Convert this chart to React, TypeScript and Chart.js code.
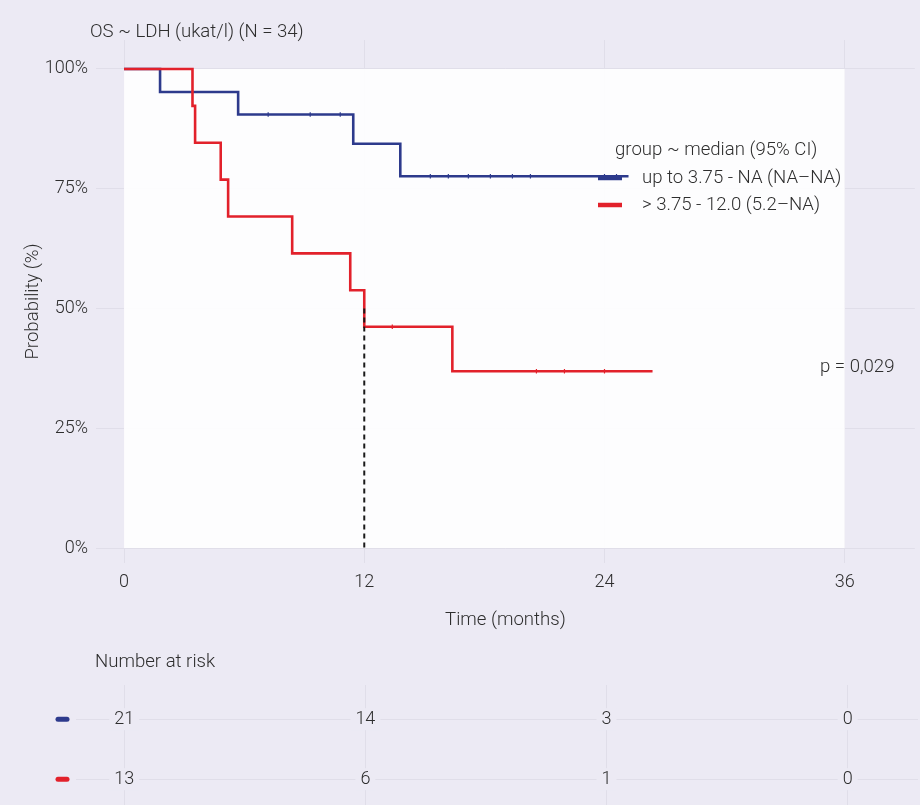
import React, { useEffect, useRef } from 'react';
import { Chart, registerables } from 'chart.js';

Chart.register(...registerables);

// ---------- data ----------
const TITLE = 'OS ~ LDH (ukat/l) (N = 34)';
const X_TITLE = 'Time (months)';
const Y_TITLE = 'Probability (%)';
const LEGEND_TITLE = 'group ~ median (95% CI)';
const GROUP_LABELS = ['up to 3.75 - NA (NA–NA)', '> 3.75 - 12.0 (5.2–NA)'];
const P_VALUE = 'p = 0,029';
const RISK_TITLE = 'Number at risk';

const X_TICKS = [0, 12, 24, 36];
const Y_TICKS = [0, 25, 50, 75, 100];

const lowTimes = [0, 1.8, 5.7, 11.45, 13.8, 25.2];
const lowSurv = [100, 95.2, 90.5, 84.4, 77.6, 77.6];
const highTimes = [0, 3.42, 3.55, 4.83, 5.2, 8.4, 11.3, 12.0, 16.4, 26.4];
const highSurv = [100, 92.3, 84.6, 76.9, 69.2, 61.5, 53.8, 46.2, 36.9, 36.9];

const lowCensorTimes = [7.2, 9.3, 10.8, 15.3, 16.2, 17.2, 18.3, 19.4, 20.3, 24.0, 24.6];
const highCensorTimes = [13.4, 20.6, 22.0, 24.0];

const MEDIAN_HIGH = 12.0;

const riskTimes = [0, 12, 24, 36];
const riskLow = [21, 14, 3, 0];
const riskHigh = [13, 6, 1, 0];

// ---------- styling ----------
const BLUE = '#2d3a8c';
const RED = '#e2212b';
const BG = '#ECEAF4';
const GRID = '#e0dee9';
const TEXT = '#2e2e2e';
const FONT = 'Roboto, "Open Sans", sans-serif';
const TXT_SIZE = 18.6;
const TICK_SIZE = 18;

const survAt = (times: number[], surv: number[], t: number) => {
  let s = surv[0];
  for (let i = 0; i < times.length; i++) if (times[i] <= t) s = surv[i];
  return s;
};

const pts = (xs: number[], ys: number[]) => xs.map((x, i) => ({ x, y: ys[i] }));

function MainChart() {
  const ref = useRef<HTMLCanvasElement | null>(null);
  useEffect(() => {
    if (!ref.current) return;
    const decor = {
      id: 'decor',
      beforeDatasetsDraw(chart: any) {
        const { ctx, scales } = chart;
        const x = scales.x, y = scales.y;
        const l = x.getPixelForValue(0), r = x.getPixelForValue(36);
        const t = y.getPixelForValue(100), b = y.getPixelForValue(0);
        ctx.save();
        ctx.fillStyle = 'rgba(255,255,255,0.9)';
        ctx.fillRect(l, t, r - l, b - t);
        ctx.restore();
      },
      afterDatasetsDraw(chart: any) {
        const { ctx } = chart;
        ctx.save();
        ctx.fillStyle = TEXT;
        ctx.textBaseline = 'middle';
        ctx.textAlign = 'left';
        ctx.font = `300 ${TXT_SIZE}px ${FONT}`;
        ctx.fillText(TITLE, 90, 32);
        // legend
        ctx.fillText(LEGEND_TITLE, 615, 150);
        const rows = [
          { c: BLUE, y: 178, t: GROUP_LABELS[0] },
          { c: RED, y: 205, t: GROUP_LABELS[1] },
        ];
        rows.forEach((r) => {
          ctx.strokeStyle = r.c;
          ctx.lineWidth = 4.5;
          ctx.beginPath();
          ctx.moveTo(598, r.y);
          ctx.lineTo(622, r.y);
          ctx.stroke();
          ctx.fillText(r.t, 642, r.y);
        });
        ctx.fillText(P_VALUE, 820, 367);
        ctx.restore();
      },
    };

    const chart = new Chart(ref.current, {
      type: 'line',
      data: {
        datasets: [
          {
            label: 'median',
            data: [
              { x: MEDIAN_HIGH, y: 50 },
              { x: MEDIAN_HIGH, y: 0 },
            ],
            borderColor: '#1a1a1a',
            borderWidth: 2,
            borderDash: [5, 4],
            pointRadius: 0,
          },
          {
            label: GROUP_LABELS[1],
            data: pts(highTimes, highSurv),
            borderColor: RED,
            borderWidth: 2.6,
            stepped: 'before',
            pointRadius: 0,
          },
          {
            label: GROUP_LABELS[0],
            data: pts(lowTimes, lowSurv),
            borderColor: BLUE,
            borderWidth: 2.6,
            stepped: 'before',
            pointRadius: 0,
          },
          {
            label: 'censor high',
            data: highCensorTimes.map((t) => ({ x: t, y: survAt(highTimes, highSurv, t) })),
            showLine: false,
            pointStyle: 'line',
            rotation: 90,
            pointRadius: 2.2,
            borderWidth: 1.2,
            borderColor: RED,
          },
          {
            label: 'censor low',
            data: lowCensorTimes.map((t) => ({ x: t, y: survAt(lowTimes, lowSurv, t) })),
            showLine: false,
            pointStyle: 'line',
            rotation: 90,
            pointRadius: 2.2,
            borderWidth: 1.2,
            borderColor: BLUE,
          },
        ],
      },
      options: {
        animation: false,
        responsive: false,
        events: [],
        layout: { padding: { left: 0, right: 2, top: 40, bottom: 0 } },
        plugins: { legend: { display: false }, tooltip: { enabled: false } },
        scales: {
          x: {
            type: 'linear',
            min: -1.4,
            max: 39.5,
            afterBuildTicks: (s: any) => {
              s.ticks = X_TICKS.map((v) => ({ value: v }));
            },
            afterFit: (s: any) => {
              s.height = 87;
            },
            grid: { color: GRID, lineWidth: 1, drawTicks: false },
            border: { display: false },
            ticks: {
              padding: 9,
              color: TEXT,
              font: { family: FONT, size: TICK_SIZE, weight: '300' as any },
              callback: (v: any) => String(v),
            },
            title: {
              display: true,
              text: X_TITLE,
              color: TEXT,
              font: { family: FONT, size: TXT_SIZE, weight: '300' as any },
              padding: { top: 0, bottom: 18 },
            },
          },
          y: {
            type: 'linear',
            min: -3.13,
            max: 106.05,
            afterBuildTicks: (s: any) => {
              s.ticks = Y_TICKS.map((v) => ({ value: v }));
            },
            afterFit: (s: any) => {
              s.width = 96;
            },
            grid: { color: GRID, lineWidth: 1, drawTicks: false },
            border: { display: false },
            ticks: {
              padding: 8,
              color: TEXT,
              font: { family: FONT, size: TICK_SIZE, weight: '300' as any },
              callback: (v: any) => `${v}%`,
            },
            title: {
              display: true,
              text: Y_TITLE,
              color: TEXT,
              font: { family: FONT, size: TXT_SIZE, weight: '300' as any },
              padding: { top: 22, bottom: 0 },
            },
          },
        },
      },
      plugins: [decor],
    } as any);
    return () => chart.destroy();
  }, []);
  return <canvas ref={ref} width={920} height={650} style={{ display: 'block' }} />;
}

function RiskChart() {
  const ref = useRef<HTMLCanvasElement | null>(null);
  useEffect(() => {
    if (!ref.current) return;
    const rows = [
      { c: BLUE, vals: riskLow, row: 0 },
      { c: RED, vals: riskHigh, row: 1 },
    ];
    const table = {
      id: 'table',
      afterDatasetsDraw(chart: any) {
        const { ctx, scales, chartArea } = chart;
        const x = scales.x, y = scales.y;
        ctx.save();
        ctx.font = `300 ${TXT_SIZE}px ${FONT}`;
        ctx.fillStyle = TEXT;
        ctx.textBaseline = 'middle';
        ctx.textAlign = 'left';
        ctx.fillText(RISK_TITLE, 95, 12);
        ctx.font = `300 ${TICK_SIZE}px ${FONT}`;
        ctx.textAlign = 'center';
        rows.forEach((r) => {
          const py = y.getPixelForValue(r.row);
          ctx.strokeStyle = r.c;
          ctx.lineWidth = 5;
          ctx.lineCap = 'round';
          ctx.beginPath();
          ctx.moveTo(chartArea.left - 18, py);
          ctx.lineTo(chartArea.left - 9, py);
          ctx.stroke();
          r.vals.forEach((v, i) => {
            const px = x.getPixelForValue(riskTimes[i]);
            const s = String(v);
            const w = ctx.measureText(s).width;
            ctx.fillStyle = BG;
            ctx.fillRect(px - w / 2 - 5, py - 11, w + 10, 22);
            ctx.fillStyle = TEXT;
            ctx.fillText(s, px, py);
          });
        });
        ctx.restore();
      },
    };
    const chart = new Chart(ref.current, {
      type: 'line',
      data: { datasets: [{ label: 'risk', data: [], pointRadius: 0 }] },
      options: {
        animation: false,
        responsive: false,
        events: [],
        layout: { padding: { left: 76, right: 2, top: 35, bottom: 0 } },
        plugins: { legend: { display: false }, tooltip: { enabled: false } },
        scales: {
          x: {
            type: 'linear',
            min: -2.4,
            max: 39.5,
            afterBuildTicks: (s: any) => {
              s.ticks = riskTimes.map((v) => ({ value: v }));
            },
            afterFit: (s: any) => {
              s.height = 0;
            },
            grid: { color: GRID, lineWidth: 1, drawTicks: false },
            border: { display: false },
            ticks: { display: false },
          },
          y: {
            type: 'linear',
            reverse: true,
            min: -0.57,
            max: 1.43,
            afterBuildTicks: (s: any) => {
              s.ticks = [0, 1].map((v) => ({ value: v }));
            },
            afterFit: (s: any) => {
              s.width = 0;
            },
            grid: { color: GRID, lineWidth: 1, drawTicks: false },
            border: { display: false },
            ticks: { display: false },
          },
        },
      },
      plugins: [table],
    } as any);
    return () => chart.destroy();
  }, []);
  return <canvas ref={ref} width={920} height={155} style={{ display: 'block' }} />;
}

export default function App() {
  return (
    <div
      style={{
        position: 'absolute',
        left: 0,
        top: 0,
        width: 920,
        height: 805,
        background: BG,
        overflow: 'hidden',
      }}
    >
      <MainChart />
      <RiskChart />
    </div>
  );
}
